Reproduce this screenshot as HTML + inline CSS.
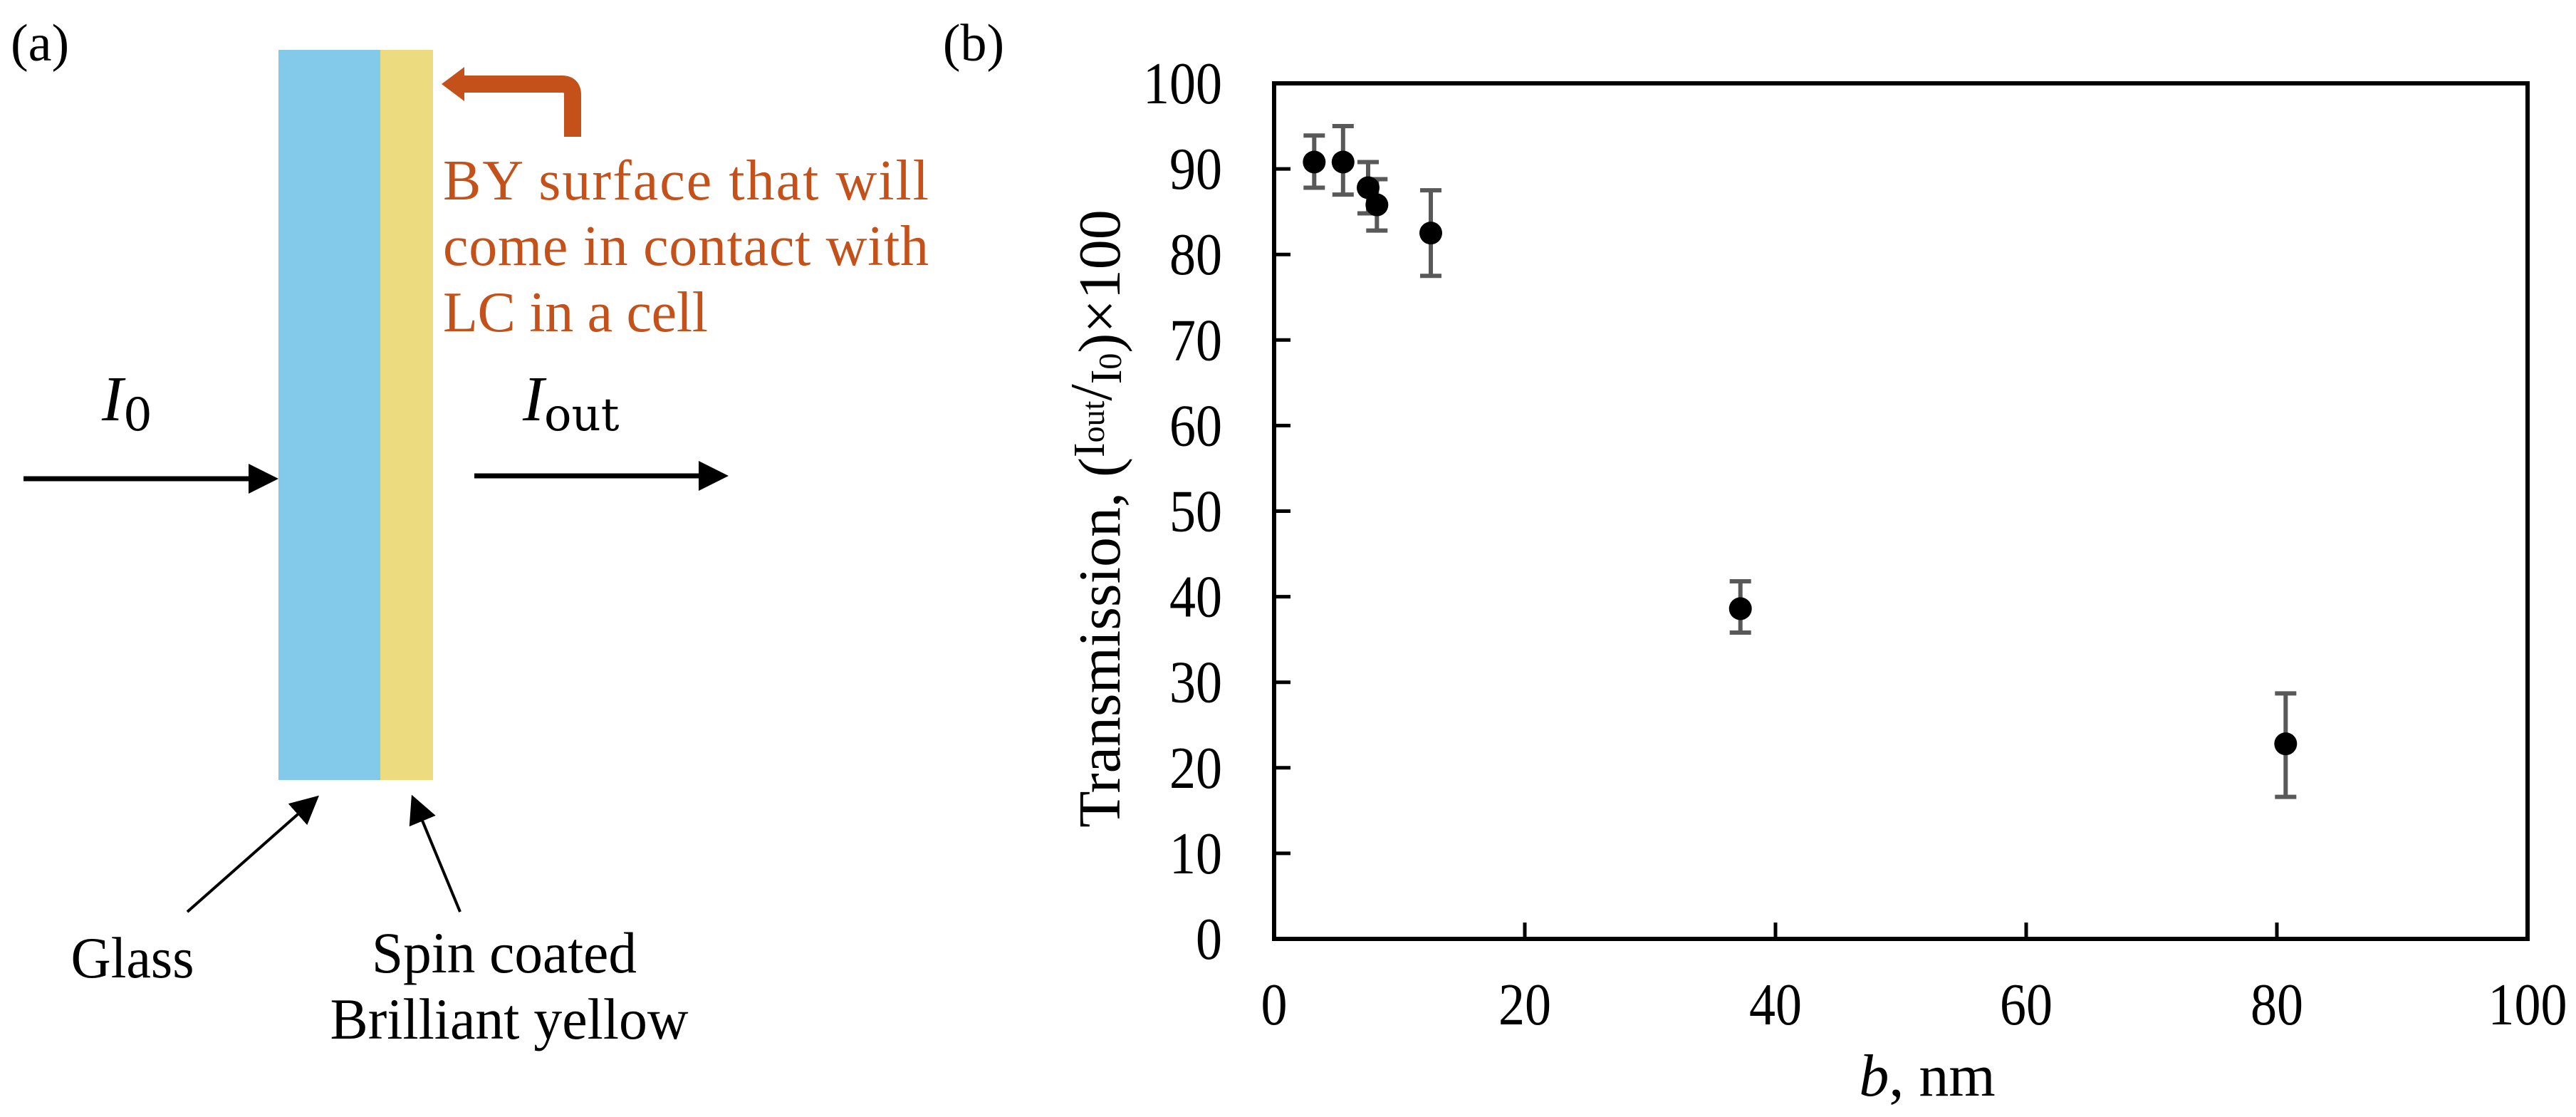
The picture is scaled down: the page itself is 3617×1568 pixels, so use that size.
<!DOCTYPE html>
<html><head><meta charset="utf-8"><style>
html,body{margin:0;padding:0;background:#fff;}
svg{display:block;font-family:"Liberation Serif",serif;}
</style></head><body>
<svg id="fig" width="3617" height="1568" viewBox="0 0 3617 1568" xmlns="http://www.w3.org/2000/svg">
<defs>
<marker id="ah" markerWidth="6" markerHeight="6" refX="5" refY="3" orient="auto" markerUnits="strokeWidth"><path d="M0,0 L6,3 L0,6 z" fill="#000"/></marker>
<marker id="ah2" markerWidth="10" markerHeight="10" refX="8" refY="5" orient="auto" markerUnits="strokeWidth"><path d="M0,0 L10,5 L0,10 z" fill="#000"/></marker>
</defs>
<g>
<text x="15" y="85" font-size="74">(a)</text>
<rect x="391" y="70" width="143" height="1025" fill="#82C9EA"/>
<rect x="534" y="70" width="74" height="1025" fill="#EDDB80"/>
<path d="M804,192 L804,133 Q804,118 789,118 L650,118" fill="none" stroke="#C5511A" stroke-width="24"/>
<path d="M620,118 L652,94 L652,142 z" fill="#C5511A"/>
<g fill="#C5511A" font-size="80">
<text x="622" y="280" textLength="682" lengthAdjust="spacing">BY surface that will</text>
<text x="622" y="372" textLength="682" lengthAdjust="spacing">come in contact with</text>
<text x="622" y="465" textLength="372" lengthAdjust="spacing">LC in a cell</text>
</g>
<text x="143" y="590" font-size="90" font-style="italic">I<tspan font-style="normal" font-family="DejaVu Serif, serif" font-size="64" dy="14">0</tspan></text>
<text x="734" y="590" font-size="90" font-style="italic">I<tspan font-style="normal" font-family="DejaVu Serif, serif" font-size="64" dy="14">out</tspan></text>
<line x1="33" y1="672" x2="384" y2="672" stroke="#000" stroke-width="7" marker-end="url(#ah)"/>
<line x1="666" y1="668" x2="1016" y2="668" stroke="#000" stroke-width="7" marker-end="url(#ah)"/>
<line x1="263" y1="1280" x2="442" y2="1122" stroke="#000" stroke-width="4" marker-end="url(#ah2)"/>
<line x1="646" y1="1280" x2="581" y2="1123" stroke="#000" stroke-width="4" marker-end="url(#ah2)"/>
<text x="186" y="1372" font-size="82" text-anchor="middle" textLength="173" lengthAdjust="spacingAndGlyphs">Glass</text>
<text x="708" y="1365" font-size="82" text-anchor="middle" textLength="372" lengthAdjust="spacingAndGlyphs">Spin coated</text>
<text x="715" y="1458" font-size="82" text-anchor="middle" textLength="503" lengthAdjust="spacingAndGlyphs">Brilliant yellow</text>
</g>
<text x="1367" y="85" font-size="74" text-anchor="middle">(b)</text>
<g id="chart"></g>
</svg>
<script>
const xVals = [3.2, 5.5, 7.5, 8.2, 12.5, 37.2, 80.7];
const yVals = [90.8, 90.8, 87.8, 85.8, 82.5, 38.6, 22.8];
const errUp = [3.1, 4.2, 3.0, 3.0, 5.0, 3.2, 5.9];
const errDown = [3.0, 3.8, 3.0, 3.0, 5.0, 2.8, 6.2];
const xTicks = [0, 20, 40, 60, 80, 100];
const yTicks = [0, 10, 20, 30, 40, 50, 60, 70, 80, 90, 100];

const L = 1789, R = 3549, T = 117, B = 1318;
const sx = v => L + (v - 0) / 100 * (R - L);
const sy = v => B - (v - 0) / 100 * (B - T);
const NS = "http://www.w3.org/2000/svg";
const g = document.getElementById('chart');
function mk(tag, attrs) {
  const e = document.createElementNS(NS, tag);
  for (const k in attrs) e.setAttribute(k, attrs[k]);
  g.appendChild(e);
  return e;
}
xTicks.forEach(t => {
  if (t > 0 && t < 100) {
    const l = mk('line', {x1: sx(t), x2: sx(t), y1: B, y2: B - 23, stroke: '#000', 'stroke-width': 5});
    
    
  }
  const s = String(t);
  const tx = mk('text', {x: sx(t), y: 1438, 'font-size': 84, 'text-anchor': 'middle', textLength: 37 * s.length, lengthAdjust: 'spacingAndGlyphs'});
  tx.textContent = s;
  
  
});
yTicks.forEach(t => {
  if (t > 0 && t < 100) {
    const l = mk('line', {x1: L, x2: L + 23, y1: sy(t), y2: sy(t), stroke: '#000', 'stroke-width': 5});
    
    
  }
  const s = String(t);
  const tx = mk('text', {x: 1716, y: sy(t) + 28, 'font-size': 84, 'text-anchor': 'end', textLength: 37 * s.length, lengthAdjust: 'spacingAndGlyphs'});
  tx.textContent = s;
  
  
});
const frame = mk('rect', {x: L, y: T, width: R - L, height: B - T, fill: 'none', stroke: '#000', 'stroke-width': 6});


xVals.forEach((x, i) => {
  const cx = sx(x), top = sy(yVals[i] + errUp[i]), bot = sy(yVals[i] - errDown[i]);
  const eb = mk('path', {d: `M${cx},${top}V${bot}M${cx-15},${top}H${cx+15}M${cx-15},${bot}H${cx+15}`, stroke: '#595959', 'stroke-width': 6, fill: 'none'});
  
  
});
xVals.forEach((x, i) => {
  const c = mk('circle', {cx: sx(x), cy: sy(yVals[i]), r: 16, fill: '#000'});
  
  
});
const xt = mk('text', {x: 2706, y: 1538, 'font-size': 84, 'text-anchor': 'middle'});
xt.innerHTML = '<tspan font-style="italic">b</tspan>, nm';


const yt = mk('text', {x: 0, y: 0, 'font-size': 84, 'text-anchor': 'middle', transform: 'translate(1572,728) rotate(-90)'});
yt.innerHTML = 'Transmission, (<tspan font-size="62" dy="-22">I</tspan><tspan font-size="46">out</tspan><tspan dy="10" font-size="84">/</tspan><tspan font-size="62" dy="14">I</tspan><tspan font-size="46">0</tspan><tspan dy="-2">)×100</tspan>';


</script>
</body></html>
